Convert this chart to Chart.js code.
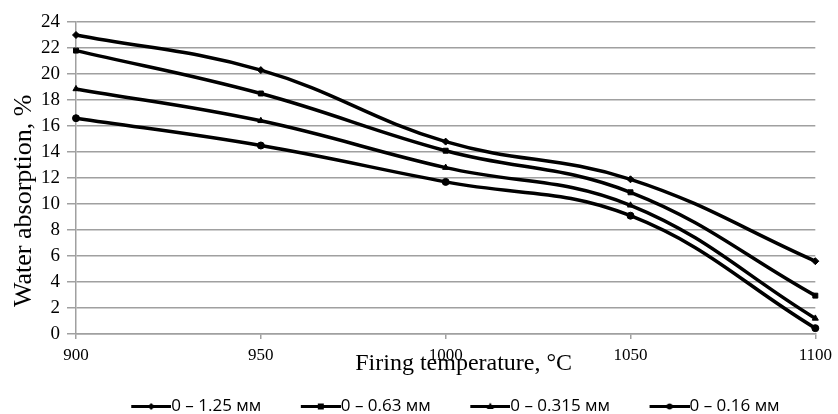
<!DOCTYPE html>
<html>
<head>
<meta charset="utf-8">
<title>Water absorption vs firing temperature</title>
<script src="https://cdn.jsdelivr.net/npm/chart.js@4.4.1/dist/chart.umd.min.js"></script>
<style>
  html, body { margin: 0; padding: 0; background: #ffffff; }
  #c { display: block; }
</style>
</head>
<body>
<canvas id="c" width="838" height="414"></canvas>
<script>
// ---- data ----
const temperatures = ['900', '950', '1000', '1050', '1100'];
const seriesLabels = ['0 – 1.25 мм', '0 – 0.63 мм', '0 – 0.315 мм', '0 – 0.16 мм'];
const absorption125 = [23.0, 20.3, 14.8, 11.9, 5.6];
const absorption063 = [21.8, 18.5, 14.1, 10.9, 2.95];
const absorption0315 = [18.85, 16.4, 12.8, 9.9, 1.2];
const absorption016 = [16.6, 14.5, 11.7, 9.1, 0.45];
const yTickValues = [0, 2, 4, 6, 8, 10, 12, 14, 16, 18, 20, 22, 24];
const xTitle = 'Firing temperature, °C';
const yTitle = 'Water absorption, %';

// ---- styling ----
const serif = "'Liberation Serif', 'Times New Roman', serif";
const gridGrey = '#a0a0a0';
const seriesData = [absorption125, absorption063, absorption0315, absorption016];
const shapes = ['rectRot', 'rect', 'triangle', 'circle'];
// the titles in the reference sit slightly off-centre; padding spaces shift them
const xTitleShift = '\u00a0\u00a0\u00a0\u00a0\u00a0\u00a0';
const yTitleShift = '\u00a0\u00a0\u00a0\u00a0\u00a0\u00a0\u00a0';

function legendSymbol(shape) {
  const c = document.createElement('canvas');
  c.width = 68; c.height = 13;
  const g = c.getContext('2d');
  g.strokeStyle = '#000'; g.lineWidth = 3;
  g.beginPath(); g.moveTo(28, 6.5); g.lineTo(68, 6.5); g.stroke();
  g.fillStyle = '#000';
  const cx = 48, cy = 6.5;
  g.beginPath();
  if (shape === 'rectRot') { g.moveTo(cx, cy - 3.5); g.lineTo(cx + 3.5, cy); g.lineTo(cx, cy + 3.5); g.lineTo(cx - 3.5, cy); }
  else if (shape === 'rect') { g.rect(cx - 3, cy - 3, 6, 6); }
  else if (shape === 'triangle') { g.moveTo(cx, cy - 4); g.lineTo(cx + 3.5, cy + 2.5); g.lineTo(cx - 3.5, cy + 2.5); }
  else { g.arc(cx, cy, 3, 0, Math.PI * 2); }
  g.closePath(); g.fill();
  return c;
}
const legendSymbols = shapes.map(legendSymbol);

const legendHeightFix = {
  id: 'legendHeightFix',
  afterInit(chart) {
    const lg = chart.legend;
    if (!lg) return;
    const orig = lg.fit.bind(lg);
    lg.fit = function () { orig(); this.height = 36; };
  }
};

new Chart(document.getElementById('c'), {
  type: 'line',
  data: {
    labels: temperatures,
    datasets: seriesData.map((d, i) => ({
      label: seriesLabels[i],
      data: d,
      borderColor: '#000',
      backgroundColor: '#000',
      borderWidth: 3.5,
      pointStyle: shapes[i],
      pointRadius: 3.5,
      pointBackgroundColor: '#000',
      pointBorderColor: '#000',
      pointBorderWidth: 1,
      tension: 0.4,
      fill: false,
      clip: 10
    }))
  },
  options: {
    responsive: false,
    animation: false,
    devicePixelRatio: 1,
    layout: { padding: { top: 22, right: 20, left: 0, bottom: 0 } },
    plugins: {
      tooltip: { enabled: false },
      legend: {
        display: true,
        position: 'bottom',
        align: 'center',
        fullSize: false,
        labels: {
          usePointStyle: true,
          pointStyleWidth: 51,
          padding: 20,
          color: '#000',
          font: { family: "'Open Sans', sans-serif", size: 17 },
          generateLabels(chart) {
            const items = Chart.defaults.plugins.legend.labels.generateLabels(chart);
            items.forEach((it, i) => { it.pointStyle = legendSymbols[i]; it.lineWidth = 0; });
            return items;
          }
        }
      }
    },
    scales: {
      x: {
        type: 'category',
        offset: false,
        grid: { display: true, drawOnChartArea: false, drawTicks: true, tickLength: 5, color: gridGrey, lineWidth: 1.5 },
        border: { display: true, color: gridGrey, width: 1.5 },
        ticks: { font: { family: serif, size: 17 }, color: '#000', padding: 6, maxRotation: 0, autoSkip: false },
        title: { display: true, text: xTitleShift + xTitle, font: { family: serif, size: 24 }, color: '#000', padding: { top: 0, bottom: 0 } },
        afterFit(s) { s.height = 44; }
      },
      y: {
        min: 0,
        max: 24,
        afterBuildTicks(s) { s.ticks = yTickValues.map(v => ({ value: v })); },
        ticks: { font: { family: serif, size: 19 }, color: '#000', padding: 7 },
        grid: { color: gridGrey, lineWidth: 1.5, tickLength: 9, drawTicks: true },
        border: { display: true, color: gridGrey, width: 1.5 },
        title: { display: true, text: yTitle + yTitleShift, font: { family: serif, size: 26 }, color: '#000', padding: { top: 9, bottom: 0 } },
        afterFit(s) { s.width = 76; }
      }
    }
  },
  plugins: [legendHeightFix]
});
</script>
</body>
</html>
